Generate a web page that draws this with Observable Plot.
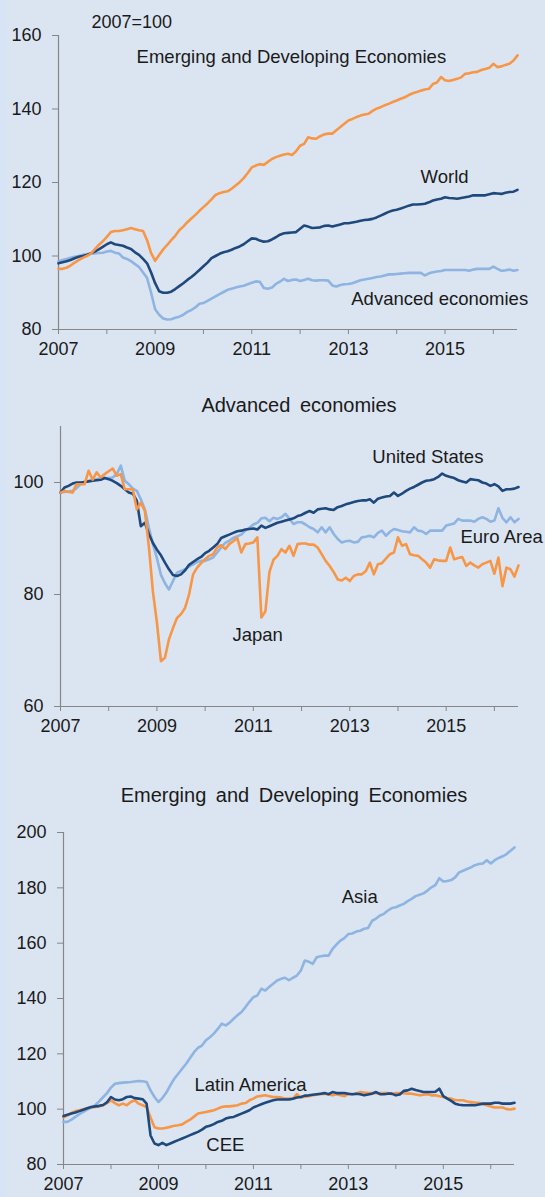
<!DOCTYPE html>
<html>
<head>
<meta charset="utf-8">
<script src="https://cdn.jsdelivr.net/npm/d3@7"></script>
<script src="https://cdn.jsdelivr.net/npm/@observablehq/plot@0.6"></script>
<style>
  html, body { margin: 0; padding: 0; }
  body { width: 545px; height: 1197px; background: #dbe5f1; position: relative; overflow: hidden;
         font-family: "Liberation Sans", Arial, sans-serif; color: #1a1a1a; }
  #strip { position: absolute; left: 0; top: 0; width: 6px; height: 1197px; background: #d6e4f6; }
  .panel { position: absolute; left: 0; }
  .title { position: absolute; transform: translate(-50%, -50%); white-space: nowrap;
           font-size: 20px; word-spacing: 4px; color: #1a1a1a; }
</style>
</head>
<body>
<div id="strip"></div>
<div id="p1" class="panel" style="top:0px"></div>
<div class="title" style="left:299px;top:405px">Advanced economies</div>
<div id="p2" class="panel" style="top:380px"></div>
<div class="title" style="left:294px;top:795px">Emerging and Developing Economies</div>
<div id="p3" class="panel" style="top:770px"></div>
<script>
// ---------- DATA (monthly, Jan 2007 – Jul 2016; index 2007=100) ----------
const startYear = 2007;
const monthCount = 115;

const world = [
  98.0, 98.3, 98.6, 98.9, 99.4, 99.8, 100.0, 100.3, 100.7, 101.2, 101.8, 102.5,
  103.2, 103.7, 103.2, 103.0, 102.8, 102.3, 101.9, 101.0, 100.3, 99.2, 98.0, 95.5,
  92.6, 90.4, 90.0, 90.0, 90.3, 91.0, 91.8, 92.6, 93.5, 94.3, 95.2, 96.2,
  97.2, 98.2, 99.4, 100.0, 100.6, 101.0, 101.3, 101.7, 102.2, 102.6, 103.2, 104.0,
  104.8, 104.7, 104.2, 103.9, 104.0, 104.5, 105.1, 105.8, 106.2, 106.3, 106.4, 106.5,
  107.4, 108.3, 108.0, 107.6, 107.7, 107.8, 108.2, 108.3, 108.0, 108.3, 108.6, 108.9,
  108.9, 109.1, 109.3, 109.6, 109.8, 109.9, 110.1, 110.5, 111.0, 111.5, 112.0, 112.4,
  112.6, 112.9, 113.3, 113.7, 114.0, 114.0, 114.1, 114.2, 114.6, 115.1, 115.4, 115.6,
  116.0, 115.8, 115.7, 115.6, 115.8, 116.0, 116.2, 116.5, 116.5, 116.5, 116.5, 116.8,
  117.1, 117.0, 116.9, 117.2, 117.4, 117.5, 118.0
];
const emergingDeveloping = [
  96.5, 96.5, 96.8, 97.4, 98.2, 98.9, 99.5, 100.0, 100.6, 101.8, 103.0, 104.0,
  105.2, 106.5, 106.8, 106.8, 107.0, 107.3, 107.6, 107.3, 107.0, 106.8, 104.3, 100.8,
  98.7, 100.3, 101.8, 103.0, 104.3, 105.5, 107.0, 108.0, 109.2, 110.2, 111.2, 112.3,
  113.3, 114.3, 115.4, 116.6, 117.1, 117.4, 117.6, 118.3, 119.2, 120.1, 121.2, 122.6,
  124.1, 124.6, 125.0, 124.8, 125.6, 126.4, 126.9, 127.3, 127.6, 127.8, 127.5, 128.5,
  130.0, 130.5, 132.3, 132.0, 131.9, 132.6, 133.1, 133.3, 133.3, 134.2, 135.1, 136.0,
  136.9, 137.3, 137.8, 138.2, 138.5, 138.7, 139.5, 140.1, 140.5, 141.0, 141.4, 141.9,
  142.3, 142.8, 143.2, 143.8, 144.3, 144.6, 145.0, 145.3, 145.5, 146.8, 147.2, 148.7,
  147.8, 147.6, 147.9, 148.2, 148.6, 149.6, 149.7, 150.0, 150.1, 150.6, 150.9, 151.2,
  152.3, 151.4, 151.6, 152.0, 152.3, 153.2, 154.6
];
const advanced = [
  98.5, 98.9, 99.2, 99.5, 99.8, 100.0, 100.3, 100.5, 100.6, 100.7, 100.8, 100.9,
  101.2, 101.4, 100.9, 100.7, 99.6, 99.2, 98.6, 97.8, 97.0, 95.5, 94.0, 90.0,
  85.5, 84.0, 83.0, 82.7, 82.8, 83.2, 83.5, 84.0, 84.8, 85.3, 86.0, 87.0,
  87.2, 87.8, 88.4, 89.0, 89.6, 90.2, 90.8, 91.1, 91.4, 91.7, 91.9, 92.3,
  92.7, 93.1, 93.0, 91.3, 91.1, 91.4, 92.4, 93.0, 93.8, 93.2, 93.5, 93.6,
  93.2, 93.5, 93.8, 93.4, 93.3, 93.4, 93.4, 93.3, 92.0, 91.7, 92.1, 92.3,
  92.4, 92.6, 93.0, 93.4, 93.6, 93.8, 94.0, 94.3, 94.4, 94.7, 95.0, 95.0,
  95.1, 95.2, 95.3, 95.4, 95.4, 95.4, 95.4, 94.7, 95.3, 95.6, 95.8, 95.9,
  96.2, 96.2, 96.2, 96.2, 96.2, 96.2, 96.0, 96.3, 96.5, 96.5, 96.5, 96.5,
  97.1, 96.5, 96.0, 96.1, 96.3, 96.0, 96.2
];

const unitedStates = [
  98.2, 99.1, 99.4, 99.8, 100.0, 100.0, 100.1, 100.2, 100.3, 100.4, 100.5, 100.8,
  100.6, 100.3, 99.9, 99.4, 98.8, 98.2, 98.0, 96.7, 92.2, 92.8, 90.8, 89.2,
  88.0, 87.0, 85.7, 84.5, 83.5, 83.3, 83.6, 84.3, 85.3, 85.8, 86.3, 86.7,
  87.4, 87.8, 88.4, 89.0, 90.1, 90.4, 90.7, 91.0, 91.3, 91.4, 91.6, 91.7,
  91.8, 91.6, 92.3, 91.9, 92.2, 92.5, 92.8, 93.0, 93.2, 93.4, 93.6, 94.0,
  94.2, 94.6, 94.9, 94.6, 95.2, 95.3, 95.4, 95.2, 95.1, 95.6, 95.8, 96.1,
  96.3, 96.5, 96.7, 96.8, 96.8, 97.0, 96.4, 97.1, 97.3, 97.5, 97.6, 98.2,
  97.6, 98.0, 98.5, 98.9, 99.2, 99.6, 100.0, 100.3, 100.4, 100.6, 101.0, 101.6,
  101.2, 101.0, 100.8, 100.4, 100.2, 100.0, 100.6, 100.5, 100.4, 100.0, 99.8, 99.4,
  99.7, 99.3, 98.5, 98.8, 98.8, 98.9, 99.2
];
const euroArea = [
  98.2, 98.3, 98.4, 98.5, 99.0, 99.7, 100.0, 100.3, 100.4, 100.6, 100.7, 100.8,
  100.8, 100.9, 101.5, 103.0, 100.3, 99.7, 98.9, 98.5, 97.0, 95.2, 91.9, 89.0,
  86.5, 83.5, 82.0, 80.9, 82.4, 83.9, 84.2, 84.5, 85.0, 85.4, 85.8, 86.0,
  86.0, 86.3, 86.6, 87.5, 88.4, 89.2, 89.6, 90.1, 90.4, 90.7, 91.4, 91.9,
  92.5, 92.8, 93.6, 93.7, 93.1, 93.7, 93.5, 93.8, 94.4, 93.5, 92.6, 92.9,
  92.9, 92.5, 92.0, 91.7, 91.1, 92.0, 91.1, 92.0, 90.8, 89.9, 89.3, 89.5,
  89.6, 89.3, 89.4, 90.2, 90.3, 90.5, 90.2, 91.0, 91.4, 90.5, 91.2, 91.7,
  91.5, 91.3, 91.2, 91.1, 92.0, 91.4, 91.3, 90.8, 91.4, 91.4, 91.4, 91.4,
  92.3, 92.5, 92.7, 93.5, 93.2, 93.2, 93.2, 93.0, 93.5, 93.8, 93.5, 93.0,
  93.2, 95.4, 93.7, 92.9, 93.8, 92.9, 93.5
];
const japan = [
  98.2, 98.5, 98.3, 98.2, 99.7, 99.7, 99.7, 102.1, 100.5, 101.8, 100.9, 101.5,
  102.0, 102.5, 101.2, 101.5, 98.8, 98.8, 98.8, 95.2, 96.4, 94.9, 88.5, 80.5,
  75.0, 68.1, 68.7, 72.0, 74.0, 75.8, 76.5, 77.6, 80.0, 83.6, 84.8, 85.6,
  86.3, 86.9, 87.2, 88.4, 88.8, 88.1, 89.0, 89.5, 90.1, 87.5, 89.0, 89.1,
  89.3, 90.2, 75.9, 77.0, 84.0, 86.2, 86.9, 88.1, 87.5, 88.7, 86.9, 89.0,
  89.1, 89.1, 88.9, 88.9, 88.4, 87.2, 86.0, 85.1, 84.0, 82.7, 82.5, 83.0,
  82.4, 83.3, 83.6, 83.6, 84.2, 85.7, 83.6, 85.4, 85.6, 86.4, 87.2, 87.5,
  90.2, 88.7, 89.0, 87.2, 87.0, 86.9, 86.3, 85.7, 84.8, 86.3, 86.1, 86.0,
  86.0, 88.4, 86.3, 86.5, 86.7, 85.1, 85.7, 85.2, 84.8, 85.4, 85.7, 86.0,
  83.7, 86.6, 81.5, 84.8, 84.5, 83.2, 85.2
];

const asia = [
  95.4, 95.4, 96.2, 97.2, 98.2, 99.0, 99.8, 100.6, 101.4, 102.8, 104.3, 105.8,
  107.8, 109.2, 109.4, 109.6, 109.7, 109.8, 110.0, 110.2, 110.1, 109.8, 106.8, 104.4,
  102.6, 104.0, 106.0, 108.6, 111.0, 112.8, 114.6, 116.4, 118.5, 120.6, 122.2, 123.0,
  124.9, 126.0, 127.3, 129.0, 130.9, 130.3, 131.3, 132.7, 134.0, 135.1, 136.9, 138.8,
  140.5, 141.1, 143.5, 142.9, 144.2, 145.3, 146.5, 147.1, 147.5, 146.6, 147.5, 148.3,
  150.1, 153.7, 153.3, 152.5, 154.9, 155.3, 155.5, 155.5, 157.9, 159.5, 160.9, 161.8,
  163.3, 163.5, 164.2, 164.5, 165.2, 165.5, 168.1, 168.9, 170.0, 170.6, 171.8, 172.7,
  173.0, 173.6, 174.2, 175.2, 176.0, 177.0, 177.5, 178.0, 179.0, 180.2, 181.0, 183.5,
  182.3, 182.5, 182.8, 183.8, 185.6, 186.2, 186.8, 187.4, 188.2, 188.6, 188.8, 190.0,
  188.8, 190.0, 190.8, 191.4, 192.2, 193.4, 194.6
];
const latinAmerica = [
  97.0, 97.8, 98.6, 99.3, 99.6, 100.0, 100.3, 100.6, 100.8, 101.0, 101.4, 102.2,
  103.2, 102.2, 101.4, 102.0, 101.4, 102.6, 103.2, 102.0, 101.4, 100.8, 97.0, 93.5,
  93.0, 93.0, 93.3, 93.6, 94.0, 94.2, 94.5, 95.4, 96.2, 97.3, 98.4, 98.7,
  99.0, 99.3, 99.6, 100.2, 100.8, 101.0, 101.0, 101.2, 101.4, 102.0, 102.2, 103.2,
  103.8, 104.6, 104.8, 105.0, 104.7, 104.4, 104.4, 104.2, 103.8, 103.8, 103.8, 105.4,
  104.2, 104.5, 104.7, 105.0, 105.2, 105.4, 105.6, 105.3, 105.0, 105.4, 105.0, 104.7,
  105.4, 105.4, 105.6, 106.2, 106.0, 105.8, 105.8, 105.8, 105.8, 105.8, 105.8, 105.4,
  105.8, 105.8, 105.8, 105.6, 105.6, 105.3, 105.0, 105.2, 105.4, 105.0, 105.0, 104.7,
  104.4, 104.0, 103.8, 103.3, 103.2, 103.2, 102.8, 102.6, 102.4, 102.3, 101.8, 101.4,
  101.0, 100.6, 100.6, 100.6, 100.0, 99.9, 100.2
];
const cee = [
  97.5, 98.0, 98.4, 98.8, 99.3, 99.8, 100.3, 100.8, 101.0, 101.2, 101.5, 102.5,
  104.4, 103.5, 103.2, 103.6, 104.4, 104.6, 104.0, 103.8, 103.6, 102.0, 90.5, 87.6,
  87.0, 87.8, 87.0, 87.6, 88.2, 88.8, 89.4, 90.0, 90.6, 91.2, 91.8, 92.6,
  93.6, 94.0, 94.6, 95.4, 95.8, 96.6, 97.0, 97.2, 97.8, 98.4, 99.0, 99.6,
  100.6, 101.2, 101.8, 102.3, 102.8, 103.2, 103.5, 103.5, 103.5, 103.5, 103.8, 104.2,
  104.4, 104.9, 105.0, 105.2, 105.4, 105.6, 105.8, 105.4, 106.2, 105.8, 105.8, 105.8,
  105.6, 105.4, 105.6, 105.4, 105.0, 105.3, 105.6, 106.2, 105.4, 105.4, 105.6, 105.6,
  105.0, 105.3, 106.6, 106.8, 107.4, 106.9, 106.6, 106.2, 106.2, 106.2, 106.3, 107.4,
  104.7, 103.8, 103.0, 102.0, 101.6, 101.4, 101.4, 101.5, 101.4, 101.7, 102.0, 102.0,
  102.0, 102.3, 102.3, 102.0, 102.0, 102.0, 102.3
];

const yearTicks = [2007, 2008, 2009, 2010, 2011, 2012, 2013, 2014, 2015, 2016];
const labeledYears = [2007, 2009, 2011, 2013, 2015];
const ticks1 = [80, 100, 120, 140, 160];
const ticks2 = [60, 80, 100];
const ticks3 = [80, 100, 120, 140, 160, 180, 200];

const labels1 = [
  {text: "Emerging and Developing Economies", x: 2011.82, y: 154.0},
  {text: "World", x: 2014.99, y: 121.4},
  {text: "Advanced economies", x: 2014.89, y: 88.4}
];
const labels2 = [
  {text: "United States", x: 2014.62, y: 104.6},
  {text: "Euro Area", x: 2016.15, y: 90.3},
  {text: "Japan", x: 2011.09, y: 72.8}
];
const labels3 = [
  {text: "Asia", x: 2013.24, y: 176.8},
  {text: "Latin America", x: 2010.94, y: 108.6},
  {text: "CEE", x: 2010.41, y: 87.0}
];

// ---------- STYLE ----------
const ORANGE = "#f79646";
const NAVY = "#1f497d";
const LIGHT = "#8db4e2";
const AXIS = "#868686";
const TEXT = "#1a1a1a";
const FONT = "'Liberation Sans', Arial, sans-serif";

const months = d3.range(monthCount).map(i => startYear + i / 12);
const toRows = vals => vals.map((v, i) => ({x: months[i], y: v}));

function panel({series, yDomain, yTicks, labels, height, margins, extra = []}) {
  return Plot.plot({
    width: 545,
    height,
    marginLeft: margins[0], marginRight: margins[1], marginTop: margins[2], marginBottom: margins[3],
    style: {background: "transparent", fontFamily: FONT, fontSize: "18px", color: TEXT, overflow: "visible"},
    x: {domain: [2007, 2016.5], axis: null},
    y: {domain: yDomain, axis: null},
    marks: [
      Plot.axisY({ticks: yTicks, tickSize: 6, tickPadding: 11, stroke: AXIS, fill: TEXT, label: null, fontSize: 18}),
      Plot.axisX({ticks: yearTicks, tickSize: 5, tickPadding: 8, stroke: AXIS, fill: TEXT, label: null, fontSize: 18,
                  tickFormat: d => labeledYears.includes(d) ? String(d) : ""}),
      Plot.ruleX([2007], {stroke: AXIS, strokeWidth: 1.2}),
      Plot.ruleY([yDomain[0]], {stroke: AXIS, strokeWidth: 1.2}),
      ...series.map(s => Plot.line(toRows(s.values), {x: "x", y: "y", stroke: s.color, strokeWidth: 2.6, strokeLinejoin: "round"})),
      Plot.text(labels, {x: "x", y: "y", text: "text", fill: TEXT, fontSize: 18.5, textAnchor: "middle", lineAnchor: "middle"}),
      ...extra
    ]
  });
}

document.getElementById("p1").append(panel({
  series: [
    {values: advanced, color: LIGHT},
    {values: world, color: NAVY},
    {values: emergingDeveloping, color: ORANGE}
  ],
  yDomain: [80, 160], yTicks: ticks1, labels: labels1, height: 370, margins: [58, 28, 35, 41],
  extra: [Plot.text(["2007=100"], {frameAnchor: "top-left", dx: 33, dy: -13, fill: TEXT, fontSize: 18, lineAnchor: "middle", textAnchor: "start"})]
}));

document.getElementById("p2").append(panel({
  series: [
    {values: euroArea, color: LIGHT},
    {values: unitedStates, color: NAVY},
    {values: japan, color: ORANGE}
  ],
  yDomain: [60, 110], yTicks: ticks2, labels: labels2, height: 370, margins: [60, 27, 46, 44]
}));

document.getElementById("p3").append(panel({
  series: [
    {values: asia, color: LIGHT},
    {values: latinAmerica, color: ORANGE},
    {values: cee, color: NAVY}
  ],
  yDomain: [80, 200], yTicks: ticks3, labels: labels3, height: 427, margins: [63, 31, 62, 33]
}));
</script>
</body>
</html>
